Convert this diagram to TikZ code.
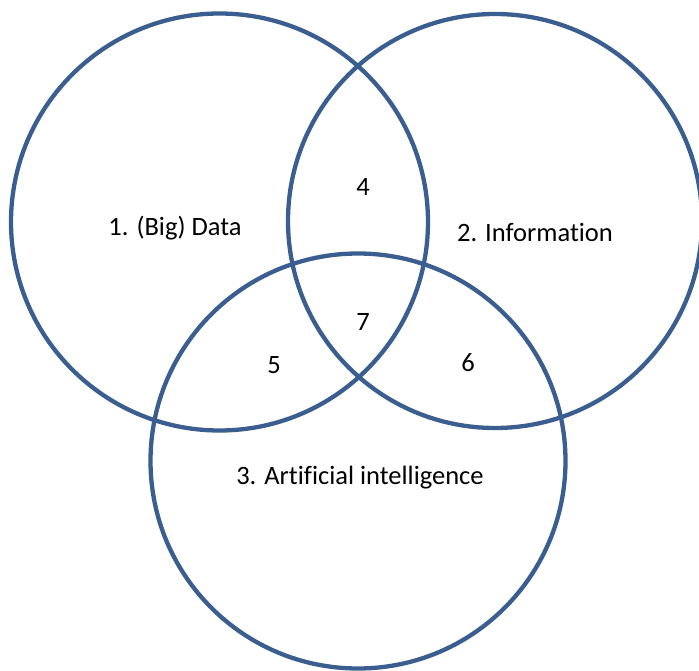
\documentclass[tikz,border=0pt]{standalone}
\usepackage{fontspec}
\setmainfont{Carlito}[Ligatures=NoCommon]
\definecolor{ringblue}{HTML}{3A5E8F}
\begin{document}
\begin{tikzpicture}[x=1pt,y=-1pt,
  ring/.style={draw=ringblue,line width=4.3pt},
  lbl/.style={inner sep=0pt,font=\fontsize{26.5}{30}\selectfont}]
\useasboundingbox (0,0) rectangle (699,671);
% the three sets
\draw[ring] (219.5,222) circle[radius=208.5] coordinate (c1);
\draw[ring] (495,221) circle[radius=207] coordinate (c2);
\draw[ring] (358,461) circle[radius=207.5] coordinate (c3);
% set names
\node[lbl] (data) at (175,228) {1. (Big) Data};
\node[lbl] (info) at (535,232) {2. Information};
\node[lbl] (ai)   at (360,478) {3. Artificial intelligence};
% overlap regions
\node[lbl] (r4) at (363,187) {4};
\node[lbl] (r5) at (274,365) {5};
\node[lbl] (r6) at (468,363) {6};
\node[lbl] (r7) at (363,322) {7};
\end{tikzpicture}
\end{document}
